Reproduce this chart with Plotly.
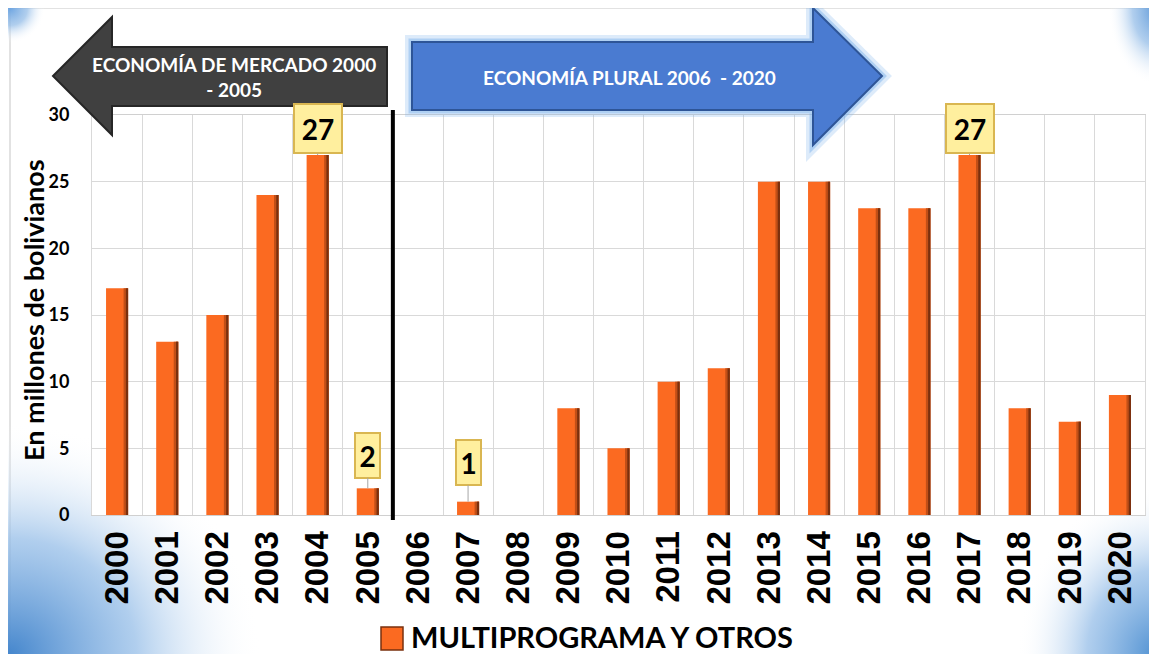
import plotly.graph_objects as go

years = ['2000', '2001', '2002', '2003', '2004', '2005', '2006', '2007', '2008', '2009', '2010',
         '2011', '2012', '2013', '2014', '2015', '2016', '2017', '2018', '2019', '2020']
monto = [17, 13, 15, 24, 27, 2, 0, 1, 0, 8, 5, 10, 11, 25, 25, 23, 23, 27, 8, 7, 9]
serie = 'MULTIPROGRAMA Y OTROS'
etiquetas = ['2004', '2005', '2007', '2017']
periodo_1 = 'ECONOMÍA DE MERCADO 2000<br>- 2005'
periodo_2 = 'ECONOMÍA PLURAL 2006  - 2020'
y_titulo = 'En millones de bolivianos'

W, H = 1157, 654
OFF = 8  # the page body margin shifts the figure by 8px
# plot area in screen pixels
PX0, PX1, PY0, PY1 = 92, 1145, 115, 515

def fx(s):
    return (s - OFF) / W

def fy(s):
    return 1 - (s - OFF) / H

NARANJA = '#FB6A21'
SOMBRA = '#C24F17'
OSCURO = '#7A300E'

fig = go.Figure()

# background corners (blue glow), drawn on a helper axis in screen pixels
def esquina(cx, cy, rx, ry, c0):
    xs = [cx - rx, cx + rx, cx + rx, cx - rx, cx - rx]
    ys = [cy - ry, cy - ry, cy + ry, cy + ry, cy - ry]
    fig.add_trace(go.Scatter(
        x=xs, y=ys, mode='lines', fill='toself', line=dict(width=0),
        fillgradient=dict(type='radial', colorscale=[
            [0, c0], [0.35, 'rgba(150,190,232,0.75)'],
            [0.7, 'rgba(255,255,255,0)'], [1, 'rgba(255,255,255,0)']]),
        hoverinfo='skip', showlegend=False, xaxis='x', yaxis='y'))

esquina(10, 654, 360, 330, 'rgba(70,135,205,1)')
esquina(1157, 654, 200, 240, 'rgba(80,145,210,1)')
esquina(1157, 8, 70, 110, 'rgba(90,150,215,1)')
esquina(10, 8, 50, 50, 'rgba(110,165,225,1)')

# bars, with a darker right edge for the bevel look
fig.add_trace(go.Bar(
    x=years, y=monto, name=serie, width=0.44, offset=-0.22,
    marker=dict(color=NARANJA, line=dict(width=0)),
    xaxis='x2', yaxis='y2', showlegend=False))
fig.add_trace(go.Bar(
    x=years, y=monto, width=0.09, offset=0.13, hoverinfo='skip',
    marker=dict(color=SOMBRA, line=dict(width=0)),
    xaxis='x2', yaxis='y2', showlegend=False))
fig.add_trace(go.Bar(
    x=years, y=monto, width=0.045, offset=0.175, hoverinfo='skip',
    marker=dict(color=OSCURO, line=dict(width=0)),
    xaxis='x2', yaxis='y2', showlegend=False))

# data labels (x given as category index)
for yr in etiquetas:
    i = years.index(yr)
    v = monto[i]
    grande = len(str(v)) > 1
    fig.add_annotation(
        x=i, y=v, xref='x2', yref='y2', text=str(v),
        showarrow=True, arrowhead=0, arrowwidth=1, arrowcolor='#a6a6a6',
        ax=0, ay=-26 if grande else (-33 if v > 1 else -39), standoff=0,
        bgcolor='#FFEF9E', bordercolor='#D9B651', borderwidth=2, borderpad=2,
        width=42 if grande else 19, height=43 if grande else 39,
        font=dict(family='Lato', size=28, color='black', weight='bold'))

shapes = []
# frame
shapes.append(dict(type='rect', xref='x', yref='y', x0=10, x1=1156, y0=8, y1=670,
                   line=dict(color='#d9d9d9', width=1.5), layer='below'))
# dark arrow (left)
flecha_1 = 'M 53,76 L 112,17 L 112,47 L 387,47 L 387,106 L 112,106 L 112,135 Z'
shapes.append(dict(type='path', xref='x', yref='y', path=flecha_1,
                   fillcolor='#404040', line=dict(color='#262626', width=2)))
# blue arrow (right) with glow
flecha_2 = 'M 412,42 L 813,42 L 813,8 L 882,76 L 813,145 L 813,110 L 412,110 Z'
shapes.append(dict(type='path', xref='x', yref='y', path=flecha_2,
                   fillcolor='rgba(0,0,0,0)', line=dict(color='rgba(120,175,235,0.25)', width=14)))
shapes.append(dict(type='path', xref='x', yref='y', path=flecha_2,
                   fillcolor='rgba(0,0,0,0)', line=dict(color='rgba(120,175,235,0.45)', width=7)))
shapes.append(dict(type='path', xref='x', yref='y', path=flecha_2,
                   fillcolor='#4A7BD1', line=dict(color='#2E5597', width=2)))
# divider between periods
shapes.append(dict(type='line', xref='x2', yref='paper', x0=5.5, x1=5.5,
                   y0=fy(520), y1=fy(110), line=dict(color='black', width=4)))
# legend swatch
shapes.append(dict(type='rect', xref='x', yref='y', x0=381, x1=403, y0=627, y1=650,
                   fillcolor=NARANJA, line=dict(color=OSCURO, width=1.5)))

fig.add_annotation(x=234, y=77, xref='x', yref='y', text=periodo_1, showarrow=False,
                   font=dict(family='Lato', size=19, color='white', weight='bold'))
fig.add_annotation(x=629, y=77, xref='x', yref='y', text=periodo_2, showarrow=False,
                   font=dict(family='Lato', size=19, color='white', weight='bold'))
fig.add_annotation(x=33, y=310, xref='x', yref='y', text=y_titulo, showarrow=False,
                   textangle=-90,
                   font=dict(family='Lato', size=27, color='black', weight='bold'))
fig.add_annotation(x=409, y=636, xref='x', yref='y', text=serie, showarrow=False,
                   xanchor='left',
                   font=dict(family='Lato', size=29, color='black', weight='bold'))

fig.update_layout(
    width=W, height=H,
    margin=dict(l=0, r=0, t=0, b=0, autoexpand=False),
    paper_bgcolor='white', plot_bgcolor='white',
    barmode='overlay',
    shapes=shapes,
    xaxis=dict(domain=[0, 1], range=[OFF, OFF + W], visible=False, fixedrange=True),
    yaxis=dict(domain=[0, 1], range=[OFF + H, OFF], visible=False, fixedrange=True),
    xaxis2=dict(domain=[fx(PX0), fx(PX1)], anchor='y2', type='category',
                range=[-0.5, len(years) - 0.5], autorange=False,
                tickson='boundaries', showgrid=True, gridcolor='#d9d9d9',
                showline=True, mirror=True, linecolor='#d0d0d0',
                tickangle=-90, ticks='', ticklabelstandoff=2,
                tickfont=dict(family='Liberation Sans', size=33, color='black', weight='bold')),
    yaxis2=dict(domain=[fy(PY1), fy(PY0)], anchor='x2', range=[0, 30], dtick=5,
                showgrid=True, gridcolor='#d9d9d9', zeroline=False,
                showline=True, mirror=True, linecolor='#d9d9d9',
                ticks='', ticklabelstandoff=18,
                tickfont=dict(family='Lato', size=18, color='black', weight='bold')),
)

fig.write_html("out.html")
